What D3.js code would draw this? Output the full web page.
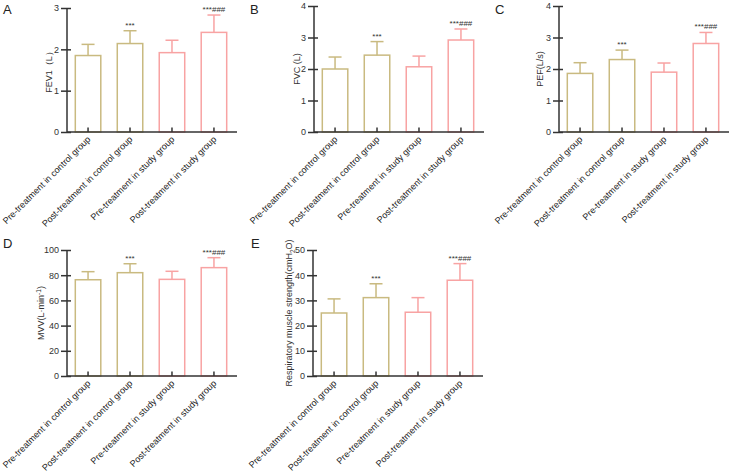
<!DOCTYPE html>
<html><head><meta charset="utf-8">
<script src="https://cdn.jsdelivr.net/npm/d3@7"></script>
<style>body{margin:0;background:#fff}svg{display:block;font-family:"Liberation Sans",Arial,sans-serif}</style>
</head><body><svg id="c" width="732" height="474"></svg>
<script>
const categories = ["Pre-treatment in control group","Post-treatment in control group","Pre-treatment in study group","Post-treatment in study group"];
const annotations = ["", "***", "", "***###"];
const fev1Mean = [1.85, 2.14, 1.92, 2.41];
const fev1SD   = [0.27, 0.31, 0.30, 0.42];
const fvcMean  = [2.00, 2.44, 2.07, 2.92];
const fvcSD    = [0.38, 0.43, 0.34, 0.35];
const pefMean  = [1.86, 2.30, 1.90, 2.81];
const pefSD    = [0.34, 0.30, 0.29, 0.35];
const mvvMean  = [76.4, 82.0, 76.7, 86.0];
const mvvSD    = [6.4, 7.1, 6.4, 7.9];
const rmsMean  = [25.0, 31.1, 25.3, 38.0];
const rmsSD    = [5.6, 5.5, 5.8, 6.6];
const fev1Ticks = [0,1,2,3], fvcTicks = [0,1,2,3,4], pefTicks = [0,1,2,3,4];
const mvvTicks = [0,20,40,60,80,100], rmsTicks = [0,10,20,30,40,50];

const colors = ["#c9ba80","#c9ba80","#f8a3a3","#f8a3a3"];
const svg = d3.select("#c");

const panels = [
  {letter:"A", lx:3, ly:14, ax:67, y0:132, y1:8, max:3, ticks:fev1Ticks, mean:fev1Mean, sd:fev1SD, label:"FEV1（L）", labx:52},
  {letter:"B", lx:250, ly:14, ax:314, y0:132, y1:6, max:4, ticks:fvcTicks, mean:fvcMean, sd:fvcSD, label:"FVC (L)", labx:300},
  {letter:"C", lx:495, ly:14, ax:559, y0:132, y1:6, max:4, ticks:pefTicks, mean:pefMean, sd:pefSD, label:"PEF(L/s)", labx:543},
  {letter:"D", lx:3, ly:248, ax:67, y0:376, y1:250, max:100, ticks:mvvTicks, mean:mvvMean, sd:mvvSD, label:"MVV", labx:44},
  {letter:"E", lx:251, ly:248, ax:313, y0:376, y1:250, max:50, ticks:rmsTicks, mean:rmsMean, sd:rmsSD, label:"RMS", labx:292}
];

panels.forEach(p => {
  const g = svg.append("g");
  const y = d3.scaleLinear().domain([0,p.max]).range([p.y0,p.y1]);
  const x = d3.scaleBand().domain(categories).range([p.ax, p.ax+168]).paddingInner(0.357).paddingOuter(0.18);
  const cx = c => x(c) + x.bandwidth()/2;

  g.append("text").attr("x",p.lx).attr("y",p.ly).attr("font-size",13).attr("fill","#222").text(p.letter);

  categories.forEach((c,i) => {
    const m = p.mean[i], s = p.sd[i];
    g.append("rect").attr("x",x(c)+0.75).attr("y",y(m)).attr("width",x.bandwidth()-1.5).attr("height",p.y0-y(m))
      .attr("fill","#fff").attr("stroke",colors[i]).attr("stroke-width",1.5);
    g.append("line").attr("x1",cx(c)).attr("x2",cx(c)).attr("y1",y(m)).attr("y2",y(m+s)).attr("stroke",colors[i]).attr("stroke-width",1.5);
    g.append("line").attr("x1",cx(c)-6.5).attr("x2",cx(c)+6.5).attr("y1",y(m+s)).attr("y2",y(m+s)).attr("stroke",colors[i]).attr("stroke-width",1.5);
    if (annotations[i]) {
      g.append("text").attr("x",cx(c)).attr("y",y(m+s)-3).attr("text-anchor","middle")
        .attr("font-size",8).attr("fill","#333").text(annotations[i]);
    }
  });

  const ya = g.append("g").attr("transform",`translate(${p.ax},0)`)
    .call(d3.axisLeft(y).tickValues(p.ticks).tickSize(0).tickPadding(8).tickFormat(d3.format("d")));
  ya.select(".domain").remove();
  ya.selectAll("text").attr("font-size",9).attr("fill","#333").attr("font-family","Liberation Sans, Arial");
  ya.selectAll(".tick").append("line").attr("x1",-6).attr("x2",4).attr("stroke","#333").attr("stroke-width",1.5);
  g.append("line").attr("x1",p.ax).attr("x2",p.ax).attr("y1",p.y0).attr("y2",p.y1).attr("stroke","#333").attr("stroke-width",1.5);

  const xa = g.append("g").attr("transform",`translate(0,${p.y0})`)
    .call(d3.axisBottom(x).tickSize(0).tickPadding(0));
  xa.select(".domain").remove();
  xa.selectAll(".tick").append("line").attr("y1",0).attr("y2",-4.5).attr("stroke","#333").attr("stroke-width",1.5);
  xa.selectAll("text").attr("font-size",9).attr("fill","#222").attr("font-family","Liberation Sans, Arial")
    .attr("text-anchor","end").attr("dy",0).attr("y",0)
    .attr("transform","translate(3,8) rotate(-45)");
  g.append("line").attr("x1",p.ax).attr("x2",p.ax+170).attr("y1",p.y0).attr("y2",p.y0).attr("stroke","#333").attr("stroke-width",1.5);

  const ymid = (p.y0+p.y1)/2;
  const t = g.append("text").attr("transform",`translate(${p.labx},${ymid}) rotate(-90)`).attr("text-anchor","middle")
    .attr("font-size",9).attr("fill","#333");
  if (p.label === "MVV") {
    t.append("tspan").text("MVV(L·min");
    t.append("tspan").attr("font-size",6.5).attr("dy",-3.5).text("-1");
    t.append("tspan").attr("dy",3.5).text(")");
  } else if (p.label === "RMS") {
    t.append("tspan").text("Respiratory muscle strength(cmH");
    t.append("tspan").attr("font-size",6.5).attr("dy",2.5).text("2");
    t.append("tspan").attr("dy",-2.5).text("O)");
  } else {
    t.text(p.label);
  }
});
</script></body></html>
